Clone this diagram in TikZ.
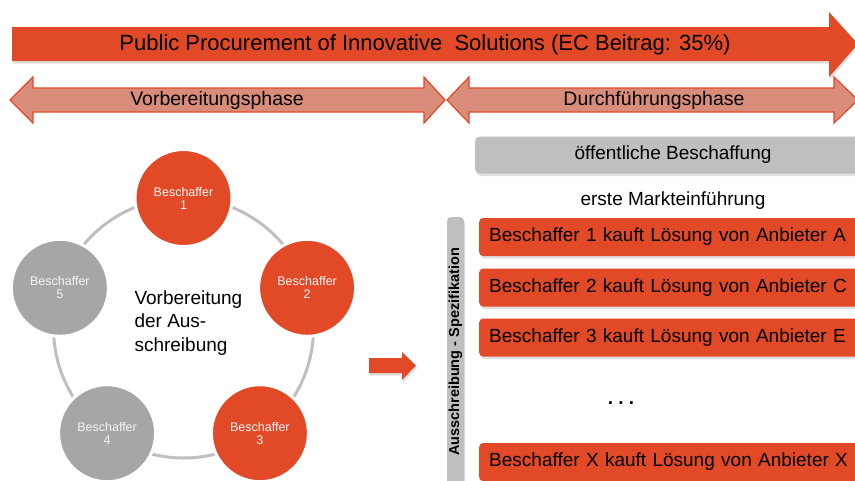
\documentclass[tikz,border=0pt]{standalone}
\usepackage{fontspec}
\setmainfont{Liberation Sans}
\usetikzlibrary{shadows}
\definecolor{ored}{RGB}{226,74,39}
\definecolor{salmon}{RGB}{218,140,122}
\definecolor{lgray}{RGB}{191,191,191}
\definecolor{cgray}{RGB}{166,166,166}
\tikzset{
  shad/.style={drop shadow={opacity=0.25,shadow xshift=1pt,shadow yshift=-2.5pt}},
  dblarrow/.style={fill=salmon,draw=ored,line width=1.2pt},
  phasetxt/.style={font=\fontsize{19.5}{23}\selectfont},
  obox/.style={fill=ored,rounded corners=4pt,shad,minimum height=38pt,anchor=west,
    text width=380pt,inner xsep=10pt,align=left,font=\fontsize{19}{23}\selectfont},
  circ/.style={circle,minimum size=97pt,inner sep=0pt,draw=white,line width=3pt,
    text=white!92!gray,align=center,font=\fontsize{12.5}{13}\selectfont},
}
\begin{document}
\begin{tikzpicture}[x=1pt,y=-1pt]
\clip (0,0) rectangle (855,480);
\fill[white] (0,0) rectangle (855,480);
% top arrow
\fill[ored,shad] (12,27) -- (829,27) -- (829,12) -- (858,44) -- (829,77) -- (829,61) -- (12,61) -- cycle;
\node[font=\fontsize{22}{26}\selectfont] (ppi) at (425,45) {Public Procurement of Innovative\ \ Solutions (EC Beitrag: 35\%)};
% phase arrows
\draw[dblarrow] (10,100) -- (33,77) -- (33,88) -- (424,88) -- (424,77) -- (445,100) -- (424,123) -- (424,112) -- (33,112) -- (33,123) -- cycle;
\draw[dblarrow] (447,100) -- (469,77) -- (469,88) -- (834,88) -- (834,77) -- (858,100) -- (834,123) -- (834,112) -- (469,112) -- (469,123) -- cycle;
\node[phasetxt] (vp) at (217,100) {Vorbereitungsphase};
\node[phasetxt] (dp) at (654,100) {Durchführungsphase};
% right side
\node[fill=lgray,rounded corners=5pt,shad,minimum width=396pt,minimum height=37pt,
  font=\fontsize{19}{23}\selectfont] (oeb) at (673,155) {öffentliche Beschaffung};
\node[font=\fontsize{19}{23}\selectfont] (emf) at (673,201) {erste Markteinführung};
\fill[lgray,rounded corners=4pt,shad] (447,217) rectangle (464,495);
\node[rotate=90,font=\bfseries\fontsize{14.5}{17}\selectfont] (aus) at (455.5,352) {Ausschreibung - Spezifikation};
\node[obox] (b1) at (479,237) {Beschaffer 1 kauft Lösung von Anbieter A};
\node[obox] (b2) at (479,287.5) {Beschaffer 2 kauft Lösung von Anbieter C};
\node[obox] (b3) at (479,337.5) {Beschaffer 3 kauft Lösung von Anbieter E};
\node[obox] (bx) at (479,462) {Beschaffer X kauft Lösung von Anbieter X};
\node[font=\bfseries\fontsize{19}{23}\selectfont] (dots) at (621,403) {.\ .\ .};
% small arrow
\fill[ored,shad] (369,358) -- (402,358) -- (402,352) -- (416,365.5) -- (402,380) -- (402,373) -- (369,373) -- cycle;
% circle cycle
\node[circle,draw=lgray,line width=3pt,minimum size=260pt,inner sep=0pt] (ring) at (183.5,328) {};
\node[circ,fill=ored] (c1) at (183.5,198) {Beschaffer\\1};
\node[circ,fill=ored] (c2) at (307.1,287.8) {Beschaffer\\2};
\node[circ,fill=ored] (c3) at (259.9,433.2) {Beschaffer\\3};
\node[circ,fill=cgray] (c4) at (107.1,433.2) {Beschaffer\\4};
\node[circ,fill=cgray] (c5) at (59.9,287.8) {Beschaffer\\5};
\node[anchor=west,align=left,font=\fontsize{19}{23.5}\selectfont] (prep) at (131,323) {Vorbereitung\\der Aus-\\schreibung};
\end{tikzpicture}
\end{document}
